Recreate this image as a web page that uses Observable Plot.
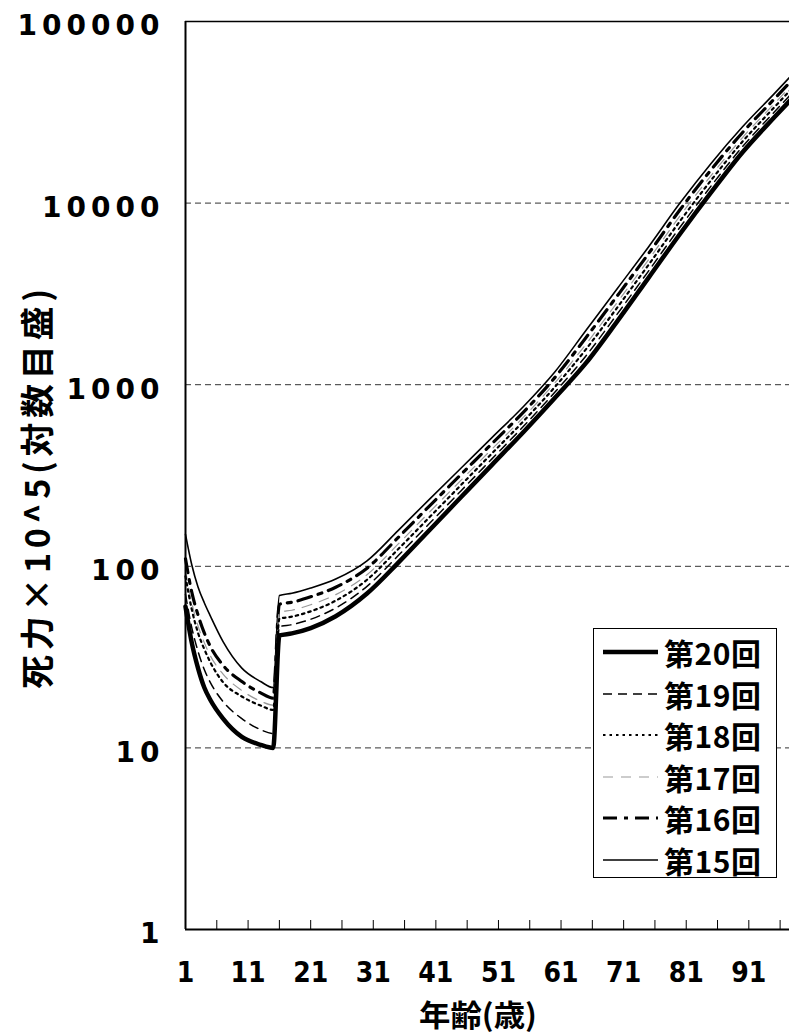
<!DOCTYPE html>
<html>
<head>
<meta charset="utf-8">
<script src="https://cdn.jsdelivr.net/npm/d3@7"></script>
<script src="https://cdn.jsdelivr.net/npm/@observablehq/plot@0.6"></script>
<style>
  body { margin: 0; background: #fff; }
  #wrap { position: relative; width: 789px; height: 1034px; overflow: hidden; background: #fff; }
  #wrap svg [aria-label="y-axis tick label"] text { letter-spacing: 5px; }
  #wrap svg [aria-label="x-axis tick label"] text { font-stretch: condensed; }
  #legend { position: absolute; left: 593px; top: 628px; width: 184px; height: 250px;
            border: 1px solid #000; background: #fff; box-sizing: border-box; }
  .row { position: absolute; left: 0; height: 40px; display: flex; align-items: center; }
  .row svg { display: block; margin-left: 9px; }
  .row span { margin-left: 6px; font-family: "Noto Sans CJK JP", sans-serif; font-weight: 700;
              font-size: 30px; letter-spacing: 0.5px; line-height: 40px; color: #000; }
</style>
</head>
<body>
<div id="wrap"><div id="legend"></div></div>
<script>
// ---- data ----
const ages = [1, 2, 3, 4, 5, 7, 10, 13, 15, 16, 18, 21, 25, 30, 35, 40, 45, 50, 55, 60, 65, 70, 75, 80, 85, 90, 95, 98];
const series = ["第20回", "第19回", "第18回", "第17回", "第16回", "第15回"];
const s20 = [60, 38, 27.5, 21.5, 18.3, 14.5, 11.5, 10.4, 10.0, 41.6, 42.7, 45.7, 53.1, 70.8, 104.7, 158.5, 239.9, 363.1, 549.5, 845.3, 1318, 2239, 3890, 6761, 11480, 19050, 29510, 38020];
const s19 = [70, 46, 34, 27, 22.8, 18, 14.5, 12.6, 12.0, 46.5, 47.7, 51.1, 58.9, 77.6, 114.6, 172.6, 260.0, 391.7, 590.2, 907.8, 1445, 2455, 4236, 7362, 12450, 20460, 31550, 40640];
const s18 = [88, 58, 43, 35, 29.5, 23, 19.2, 17.1, 16.2, 51.4, 52.8, 56.5, 64.7, 84.3, 124.5, 186.6, 279.9, 419.8, 629.5, 970.6, 1570, 2667, 4581, 7961, 13400, 21830, 33500, 43150];
const s17 = [95, 63, 47, 38, 32, 25.5, 20.7, 18.1, 17.2, 55.8, 57.3, 61.4, 69.8, 89.9, 132.8, 199.1, 297.2, 443.6, 662.2, 1023, 1675, 2844, 4887, 8492, 14220, 22960, 35080, 45190];
const s16 = [110, 72, 54, 43, 36, 28.5, 23.2, 20.1, 18.8, 61.8, 63.4, 67.9, 76.7, 97.7, 144.2, 215.3, 319.9, 475.3, 706.3, 1094, 1820, 3090, 5284, 9183, 15310, 24490, 37240, 47970];
const s15 = [150, 102, 77, 63, 53, 38.5, 27.5, 23.2, 21.5, 69.0, 71.0, 75.9, 85.1, 107.2, 157.8, 234.4, 346.7, 512.9, 758.6, 1175, 1995, 3388, 5754, 10000, 16596, 26303, 39811, 51286];
const xTickLabels = [1, 11, 21, 31, 41, 51, 61, 71, 81, 91];
const xTickMarks = [6, 11, 16, 21, 26, 31, 36, 41, 46, 51, 56, 61, 66, 71, 76, 81, 86, 91, 96];
const yTicks = [1, 10, 100, 1000, 10000, 100000];
const gridValues = [10, 100, 1000, 10000];
const xTitle = "年齢(歳)";
const yTitle = "死力×10^5(対数目盛)";

// ---- styles (kept apart from data) ----
const values = [s20, s19, s18, s17, s16, s15];
const styles = [
  {stroke: "#000", strokeWidth: 4.5},
  {stroke: "#000", strokeWidth: 1.5, strokeDasharray: "9,6"},
  {stroke: "#000", strokeWidth: 2.2, strokeDasharray: "2.5,4"},
  {stroke: "#999", strokeWidth: 1.2, strokeDasharray: "10,8"},
  {stroke: "#000", strokeWidth: 3.2, strokeDasharray: "14,7,4,7"},
  {stroke: "#000", strokeWidth: 1.6}
];

const tables = series.map((name, i) => ages.map((a, j) => ({series: name, age: a, value: values[i][j]})));
const drawOrder = [5, 4, 3, 2, 1, 0];

const chart = Plot.plot({
  width: 789,
  height: 1034,
  marginLeft: 185,
  marginRight: 0,
  marginTop: 21,
  marginBottom: 105,
  x: {type: "linear", domain: [1, 97.5]},
  y: {type: "log", domain: [1, 100000]},
  marks: [
    Plot.ruleY(gridValues, {stroke: "#333", strokeWidth: 1, strokeDasharray: "6,4"}),
    ...drawOrder.map(i => Plot.line(tables[i], {x: "age", y: "value", curve: "monotone-x", ...styles[i]})),
    Plot.ruleY([100000], {stroke: "#000", strokeWidth: 1.5}),
    Plot.ruleY([1], {stroke: "#000", strokeWidth: 2}),
    Plot.ruleX([1], {stroke: "#000", strokeWidth: 2}),
    Plot.axisX(xTickMarks, {tickSize: -9, tickFormat: () => "", stroke: "#000", label: null}),
    Plot.axisX(xTickLabels, {tickSize: 0, tickPadding: 33, tickFormat: d => String(d), label: null,
      fontSize: 28, fontWeight: "bold", fill: "#000",
      fontFamily: "'Liberation Sans Narrow', 'DejaVu Sans Condensed', 'Arial Narrow', sans-serif"}),
    Plot.axisY(yTicks, {tickSize: 0, tickPadding: 21, tickFormat: d => String(d), dy: 5, label: null,
      fontSize: 28, fontWeight: "bold", fill: "#000", fontFamily: "'DejaVu Sans', sans-serif"})
  ]
});

document.getElementById("wrap").prepend(chart);

const svg = d3.select(chart);
svg.append("text")
  .attr("x", 478).attr("y", 1026)
  .attr("text-anchor", "middle")
  .attr("font-family", "'Noto Sans CJK JP', sans-serif")
  .attr("font-weight", 700).attr("font-size", 30).attr("fill", "#000")
  .attr("textLength", 118).attr("lengthAdjust", "spacingAndGlyphs")
  .text(xTitle);
svg.append("text")
  .attr("transform", "translate(35,489) rotate(-90)")
  .attr("text-anchor", "middle").attr("dominant-baseline", "central")
  .attr("font-family", "'Noto Sans CJK JP', sans-serif")
  .attr("font-weight", 700).attr("font-size", 34).attr("fill", "#000")
  .attr("textLength", 400).attr("lengthAdjust", "spacing")
  .text(yTitle);

// ---- legend ----
const legend = document.getElementById("legend");
const rowCenters = [23, 64.5, 106, 147.5, 189, 230.5];
series.forEach((name, i) => {
  const row = document.createElement("div");
  row.className = "row";
  row.style.top = (rowCenters[i] - 20) + "px";
  const s = styles[i];
  row.innerHTML =
    `<svg width="55" height="20"><line x1="0" y1="10" x2="55" y2="10" stroke="${s.stroke}" stroke-width="${s.strokeWidth}"` +
    (s.strokeDasharray ? ` stroke-dasharray="${s.strokeDasharray}"` : "") + `/></svg><span>${name}</span>`;
  legend.appendChild(row);
});
</script>
</body>
</html>
